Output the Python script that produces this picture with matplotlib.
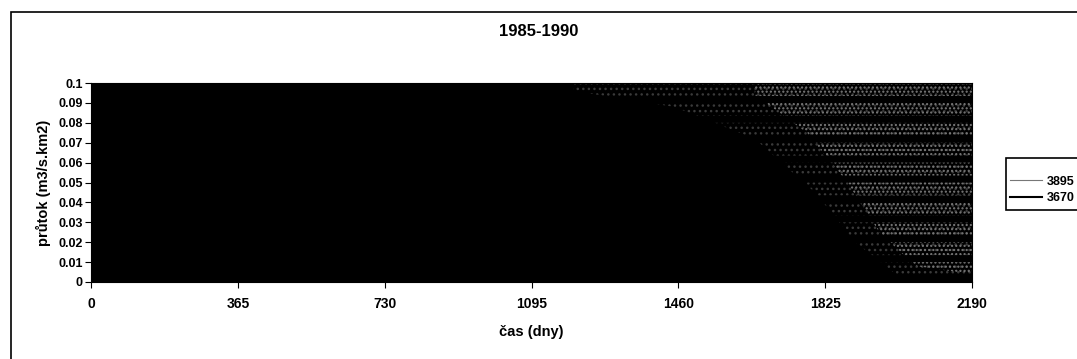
import matplotlib
matplotlib.use("Agg")
import numpy as np
import matplotlib.pyplot as plt
from matplotlib.lines import Line2D
from matplotlib.patches import Rectangle

plt.rcParams['font.family'] = ['Liberation Sans', 'DejaVu Sans']
plt.rcParams['hatch.linewidth'] = 1.0

# Time axis (days from 1 Jan 1985) and the axis ticks
x_ticks = [0, 365, 730, 1095, 1460, 1825, 2190]
y_ticks = [0, 0.01, 0.02, 0.03, 0.04, 0.05, 0.06, 0.07, 0.08, 0.09, 0.1]
y_tick_labels = ["0", "0.01", "0.02", "0.03", "0.04", "0.05", "0.06", "0.07", "0.08", "0.09", "0.1"]

# Station 3670: daily specific runoff envelope (values run off the top of the scale)
days_3670 = [0, 365, 730, 1095, 1460, 1825, 2190]
q3670_low = [0, 0, 0, 0, 0, 0, 0]
q3670_high = [0.1, 0.1, 0.1, 0.1, 0.1, 0.1, 0.1]

# Station 3895: envelope of the thinner grey trace, sparse part
days_3895_a = [1200, 1450, 1650, 1800, 1900, 2000, 2190]
q3895_a_low = [0.096, 0.088, 0.072, 0.045, 0.02, 0.004, 0.0]
# denser part towards the end of the period
days_3895_b = [1650, 1780, 1880, 1960, 2050, 2190]
q3895_b_low = [0.094, 0.075, 0.05, 0.025, 0.008, 0.004]

series_labels = ["3895", "3670"]

fig = plt.figure(figsize=(10.77, 3.59), dpi=100)
fig.patch.set_facecolor("white")

# chart frame
fig.patches.append(Rectangle((11 / 1077, -0.1), 1.2, (359 - 12) / 359 + 0.1,
                             transform=fig.transFigure, fill=False,
                             edgecolor="black", linewidth=1.2))

ax = fig.add_axes([91 / 1077, 1 - 282 / 359, (972 - 91) / 1077, (282 - 83) / 359])

ax.fill_between(days_3670, q3670_low, q3670_high, color="black", linewidth=0)


def banded(days, low, edge, hatch):
    """Fill the area above `low` in horizontal bands, one under each 0.01 level."""
    days = np.asarray(days, float)
    low = np.asarray(low, float)
    xs = np.linspace(days[0], days[-1], 200)
    lo = np.interp(xs, days, low)
    for upper in y_ticks[1:]:
        y1 = np.maximum(lo, upper - 0.0065)
        ax.fill_between(xs, y1, upper, where=lo < upper, interpolate=True,
                        facecolor="none", edgecolor=edge, hatch=hatch, linewidth=0)


banded(days_3895_a, q3895_a_low, "#3a3a3a", "...")
banded(days_3895_b, q3895_b_low, "#7a7a7a", "....")

ax.set_xlim(0, 2190)
ax.set_ylim(0, 0.1)
ax.set_xticks(x_ticks)
ax.set_xticklabels([str(t) for t in x_ticks], fontsize=10, fontweight="bold")
ax.set_yticks(y_ticks)
ax.set_yticklabels(y_tick_labels, fontsize=9, fontweight="bold")
ax.tick_params(axis="x", direction="out", length=4, width=0.8, pad=7)
ax.tick_params(axis="y", direction="out", length=4, width=0.8, pad=2)
for s in ax.spines.values():
    s.set_linewidth(0.8)

ax.set_xlabel("čas (dny)", fontsize=10.5, fontweight="bold", labelpad=10)
ax.set_ylabel("průtok (m3/s.km2)", fontsize=10.5, fontweight="bold", labelpad=5)
fig.text(0.5, 1 - 32 / 359, "1985-1990", ha="center", va="center",
         fontsize=12, fontweight="bold")

# legend box, running past the right edge of the chart
fig.patches.append(Rectangle((1006 / 1077, 1 - 210 / 359), 0.2, 52 / 359,
                             transform=fig.transFigure, facecolor="white",
                             edgecolor="black", linewidth=1.2))
handles = [Line2D([], [], color="#777777", linewidth=0.8),
           Line2D([], [], color="black", linewidth=1.5)]
leg = fig.legend(handles, series_labels,
                 loc="center left", bbox_to_anchor=(1006 / 1077, 1 - 190 / 359),
                 fontsize=9, frameon=False, borderpad=0.3,
                 handlelength=2.6, handletextpad=0.35, labelspacing=0.35,
                 borderaxespad=0)
for t in leg.get_texts():
    t.set_fontweight("bold")

fig.savefig("out.png", dpi=100)
